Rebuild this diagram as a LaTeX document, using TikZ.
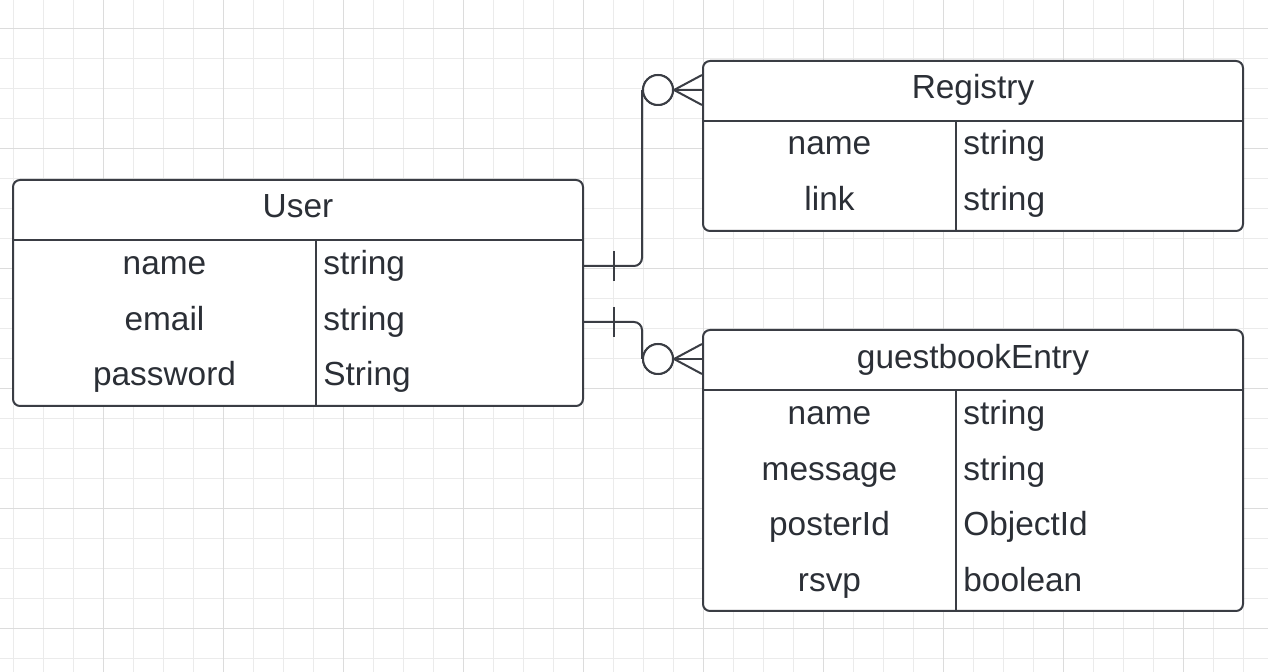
\documentclass[tikz,border=0pt]{standalone}
\usepackage{fontspec}
\setmainfont{Liberation Sans}
\usetikzlibrary{calc}
\definecolor{ink}{HTML}{3A3D44}
\definecolor{txt}{HTML}{2B2F36}
\definecolor{gminor}{HTML}{EBEBEB}
\definecolor{gmajor}{HTML}{DCDCDC}
\begin{document}
\begin{tikzpicture}[x=0.5pt,y=-0.5pt,
  entity/.style={draw=ink, line width=1pt, rounded corners=3.5pt, fill=white, inner sep=0pt},
  sep/.style={draw=ink, line width=1pt},
  lab/.style={text=txt, font=\fontsize{16.7}{19}\selectfont, inner sep=0pt, anchor=base},
  typ/.style={lab, anchor=base west},
  conn/.style={draw=ink, line width=1pt, rounded corners=4pt},
  zero/.style={circle, draw=ink, line width=1pt, fill=white, minimum size=15pt, inner sep=0pt},
  minor/.style={draw=gminor, line width=0.5pt},
  major/.style={draw=gmajor, line width=0.5pt}]
\fill[white] (0,0) rectangle (1268,672);
\useasboundingbox (0,0) rectangle (1268,672);
% grid
\foreach \x in {13,43,...,1243} \draw[minor] (\x,0) -- (\x,672);
\foreach \y in {29,59,...,659} \draw[minor] (0,\y) -- (1268,\y);
\foreach \x in {103,223,...,1183} \draw[major] (\x,0) -- (\x,672);
\foreach \y in {29,149,...,629} \draw[major] (0,\y) -- (1268,\y);

% User
\node[entity, minimum width=285pt, minimum height=113pt] (user) at (298,293) {};
\draw[sep] (13,240) -- (583,240);
\draw[sep] (316,240) -- (316,406);
\node[lab] (userT) at (298,218) {User};
\node[lab] (u1) at (164.5,274.5) {name};
\node[typ] (u1t) at (323,274.5) {string};
\node[lab] (u2) at (164.5,330.5) {email};
\node[typ] (u2t) at (323,330.5) {string};
\node[lab] (u3) at (164.5,386) {password};
\node[typ] (u3t) at (323,386) {String};

% Registry
\node[entity, minimum width=270pt, minimum height=85pt] (reg) at (973,146) {};
\draw[sep] (703,121) -- (1243,121);
\draw[sep] (956,121) -- (956,231);
\node[lab] (regT) at (973,98.5) {Registry};
\node[lab] (r1) at (829.5,155) {name};
\node[typ] (r1t) at (963,155) {string};
\node[lab] (r2) at (829.5,211) {link};
\node[typ] (r2t) at (963,211) {string};

% guestbookEntry
\node[entity, minimum width=270pt, minimum height=140.5pt] (gb) at (973,470.5) {};
\draw[sep] (703,390) -- (1243,390);
\draw[sep] (956,390) -- (956,611);
\node[lab] (gbT) at (973,368.5) {guestbookEntry};
\node[lab] (g1) at (829.5,424.5) {name};
\node[typ] (g1t) at (963,424.5) {string};
\node[lab] (g2) at (829.5,480.5) {message};
\node[typ] (g2t) at (963,480.5) {string};
\node[lab] (g3) at (829.5,536) {posterId};
\node[typ] (g3t) at (963,536) {ObjectId};
\node[lab] (g4) at (829.5,591.5) {rsvp};
\node[typ] (g4t) at (963,591.5) {boolean};

% connector User -> Registry
\coordinate (a1) at ($(user.north east)+(0,87)$);
\node[zero] (o1) at (658,90) {};
\draw[conn] (a1) -| (o1.west);
\node[zero] at (o1) {};
\draw[sep] ($(a1)+(30,-15)$) -- ($(a1)+(30,15)$);
\coordinate (f1a) at ($(reg.west)+(0,-56)$);
\coordinate (f1b) at ($(reg.west)+(0,-71)$);
\coordinate (f1c) at ($(reg.west)+(0,-41)$);
\draw[sep] (o1.east) -- (f1a);
\draw[sep] (o1.east) -- (f1b);
\draw[sep] (o1.east) -- (f1c);

% connector User -> guestbookEntry
\coordinate (a2) at ($(user.north east)+(0,143)$);
\node[zero] (o2) at (658,359) {};
\draw[conn] (a2) -| (o2.west);
\node[zero] at (o2) {};
\draw[sep] ($(a2)+(30,-15)$) -- ($(a2)+(30,15)$);
\coordinate (f2a) at ($(gb.west)+(0,-111.5)$);
\coordinate (f2b) at ($(gb.west)+(0,-126.5)$);
\coordinate (f2c) at ($(gb.west)+(0,-96.5)$);
\draw[sep] (o2.east) -- (f2a);
\draw[sep] (o2.east) -- (f2b);
\draw[sep] (o2.east) -- (f2c);
\end{tikzpicture}
\end{document}
